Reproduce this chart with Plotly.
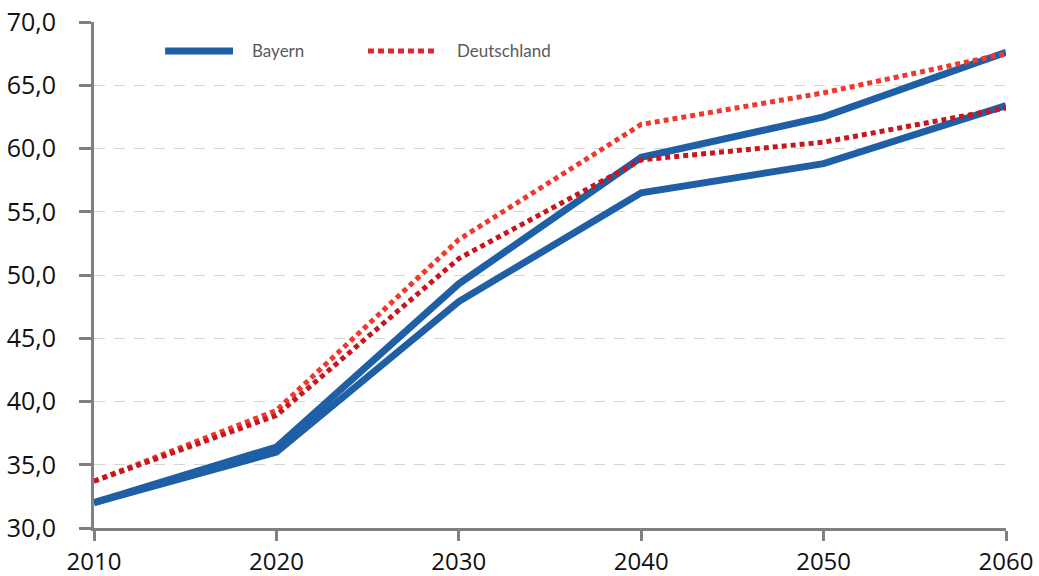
import plotly.graph_objects as go

years = [2010, 2020, 2030, 2040, 2050, 2060]
bayern_a = [32.0, 36.4, 49.3, 59.3, 62.5, 67.6]
bayern_b = [32.0, 36.0, 47.9, 56.5, 58.8, 63.4]
deutschland_a = [33.7, 39.3, 52.8, 61.9, 64.4, 67.5]
deutschland_b = [33.7, 38.9, 51.3, 59.1, 60.5, 63.2]
y_ticks = [30, 35, 40, 45, 50, 55, 60, 65, 70]
legend_labels = ["Bayern", "Deutschland"]

blue = "#1F5FA6"
red_bright = "#F0382E"
red_dark = "#C8161F"
red_legend = "#DC2830"

fig = go.Figure()
fig.add_trace(go.Scatter(x=years, y=bayern_a, mode="lines", name="Bayern",
                         line=dict(color=blue, width=7), showlegend=False))
fig.add_trace(go.Scatter(x=years, y=bayern_b, mode="lines", name="Bayern",
                         line=dict(color=blue, width=7), showlegend=False))
fig.add_trace(go.Scatter(x=years, y=deutschland_a, mode="lines", name="Deutschland",
                         line=dict(color=red_bright, width=5, dash="5px,4px"), showlegend=False))
fig.add_trace(go.Scatter(x=years, y=deutschland_b, mode="lines", name="Deutschland",
                         line=dict(color=red_dark, width=5, dash="5px,4px"), showlegend=False))

# manual legend (paper coordinates)
ly = 0.9427
fig.add_shape(type="line", xref="paper", yref="paper", x0=0.078, x1=0.1524, y0=ly, y1=ly,
              line=dict(color=blue, width=7))
fig.add_shape(type="line", xref="paper", yref="paper", x0=0.3004, x1=0.3761, y0=ly, y1=ly,
              line=dict(color=red_legend, width=5, dash="6px,4px"))
fig.add_annotation(xref="paper", yref="paper", x=0.171, y=ly, xanchor="left", yanchor="middle",
                   text=legend_labels[0], showarrow=False,
                   font=dict(family="Lato", size=17, color="#5a5a5a"))
fig.add_annotation(xref="paper", yref="paper", x=0.396, y=ly, xanchor="left", yanchor="middle",
                   text=legend_labels[1], showarrow=False,
                   font=dict(family="Lato", size=17, color="#5a5a5a"))

fig.update_layout(
    width=1039, height=576,
    margin=dict(l=94, r=33, t=22, b=48),
    paper_bgcolor="white", plot_bgcolor="white",
    separators=",.",
    showlegend=False,
    font=dict(family="Open Sans", size=25, color="#111111"),
    xaxis=dict(range=[2010, 2060], tickvals=years, ticktext=[str(y) for y in years],
               showgrid=False, zeroline=False, showline=True, linecolor="#808080",
               linewidth=3, ticks="outside", ticklen=10, tickwidth=3, tickcolor="#808080",
               automargin=False, ticklabelstandoff=0,
               tickfont=dict(size=24, family="Open Sans", color="#111111")),
    yaxis=dict(range=[30, 70], tickvals=y_ticks, tickformat=".1f",
               showgrid=True, gridcolor="#D6D6D6", griddash="11px,9px", gridwidth=1,
               zeroline=False, showline=True, linecolor="#808080", linewidth=3,
               ticks="outside", ticklen=12, tickwidth=3, tickcolor="#808080",
               automargin=False, ticklabelstandoff=18,
               tickfont=dict(size=25, family="Open Sans", color="#111111")),
)

fig.write_html("out.html", config={"displayModeBar": False},
               post_script="document.body.style.margin='0';document.body.style.overflow='hidden';")
